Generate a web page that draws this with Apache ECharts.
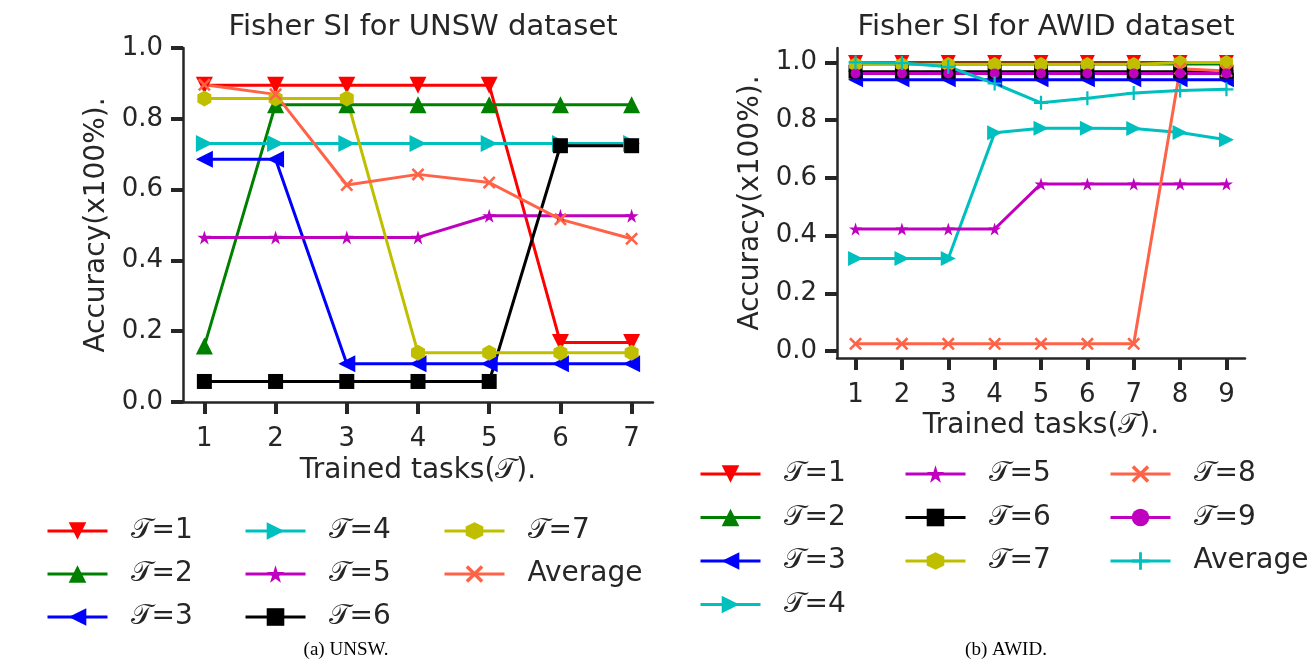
<!DOCTYPE html>
<html>
<head>
<meta charset="utf-8">
<script src="https://cdn.jsdelivr.net/npm/echarts@6/dist/echarts.min.js"></script>
<style>
html,body{margin:0;padding:0;background:#fff;}
.c{position:absolute;left:0;top:0;width:1315px;height:663px;}
#c2{pointer-events:none;}
</style>
</head>
<body>
<div id="c1" class="c"></div>
<div id="c2" class="c"></div>
<script>
// ---------- data: UNSW ----------
const unswTasks = [1, 2, 3, 4, 5, 6, 7];
const unswT1 = [0.895, 0.895, 0.895, 0.895, 0.895, 0.168, 0.168];
const unswT2 = [0.158, 0.840, 0.840, 0.840, 0.840, 0.840, 0.840];
const unswT3 = [0.686, 0.686, 0.108, 0.108, 0.108, 0.108, 0.108];
const unswT4 = [0.730, 0.730, 0.730, 0.730, 0.730, 0.730, 0.730];
const unswT5 = [0.465, 0.465, 0.465, 0.465, 0.526, 0.526, 0.526];
const unswT6 = [0.058, 0.058, 0.058, 0.058, 0.058, 0.724, 0.724];
const unswT7 = [0.857, 0.857, 0.857, 0.139, 0.139, 0.139, 0.139];
const unswAvg = [0.896, 0.869, 0.613, 0.643, 0.620, 0.516, 0.461];

// ---------- data: AWID ----------
const awidTasks = [1, 2, 3, 4, 5, 6, 7, 8, 9];
const awidT1 = [1.000, 1.000, 1.000, 1.000, 1.000, 1.000, 1.000, 1.000, 1.000];
const awidT2 = [0.995, 0.995, 0.995, 0.995, 0.995, 0.995, 0.995, 0.995, 0.995];
const awidT3 = [0.940, 0.940, 0.940, 0.940, 0.940, 0.940, 0.940, 0.940, 0.940];
const awidT4 = [0.321, 0.321, 0.321, 0.756, 0.772, 0.772, 0.771, 0.757, 0.732];
const awidT5 = [0.423, 0.423, 0.423, 0.423, 0.579, 0.579, 0.579, 0.579, 0.579];
const awidT6 = [0.968, 0.968, 0.968, 0.968, 0.968, 0.968, 0.968, 0.968, 0.968];
const awidT7 = [0.993, 0.993, 0.993, 0.993, 0.993, 0.993, 0.993, 1.000, 1.000];
const awidT8 = [0.025, 0.025, 0.025, 0.025, 0.025, 0.025, 0.025, 0.978, 0.970];
const awidT9 = [0.962, 0.962, 0.962, 0.962, 0.962, 0.962, 0.962, 0.962, 0.962];
const awidAvg = [1.000, 0.998, 0.985, 0.927, 0.860, 0.876, 0.894, 0.903, 0.907];

const yTicks = [0, 0.2, 0.4, 0.6, 0.8, 1.0];
const seriesNames = ['𝒯=1', '𝒯=2', '𝒯=3', '𝒯=4', '𝒯=5', '𝒯=6', '𝒯=7', '𝒯=8', '𝒯=9'];
const avgName = 'Average';

// ---------- styles ----------
const FONT = 'DejaVu Sans';
const INK = '#262626';
const STAR = 'path://M50 0L61.23 34.55L97.55 34.55L68.17 55.9L79.39 90.45L50 69.1L20.61 90.45L31.83 55.9L2.45 34.55L38.77 34.55Z';
const HEX = 'path://M50 0L93.3 25L93.3 75L50 100L6.7 75L6.7 25Z';
const XMARK = 'path://M14 0L100 86L86 100L0 14ZM86 0L100 14L14 100L0 86Z';
const PLUS = 'path://M42 0H58V42H100V58H58V100H42V58H0V42H42Z';

function mk(name, xs, ys, color, symbol, size, rotate) {
  return {
    type: 'line', name: name,
    data: xs.map((x, i) => [x, ys[i]]),
    symbol: symbol, symbolSize: size, symbolRotate: rotate || 0,
    showAllSymbol: true,
    lineStyle: { color: color, width: 3 },
    itemStyle: { color: color },
    emphasis: { disabled: true },
    animation: false
  };
}

function axes(xs, xmin, xmax, ymin, ymax) {
  return {
    xAxis: {
      type: 'value', min: xmin, max: xmax,
      name: 'Trained tasks(𝒯).', nameLocation: 'middle', nameGap: 54,
      nameTextStyle: { fontFamily: FONT, fontSize: 28, color: INK },
      axisLine: { show: true, onZero: false, lineStyle: { color: INK, width: 2.5 } },
      axisTick: { show: true, customValues: xs, length: 12, lineStyle: { color: INK, width: 4 } },
      axisLabel: { customValues: xs, margin: 24, fontFamily: FONT, fontSize: 26, color: INK },
      splitLine: { show: false }
    },
    yAxis: {
      type: 'value', min: ymin, max: ymax,
      name: 'Accuracy(x100%).', nameLocation: 'middle', nameGap: 72,
      nameTextStyle: { fontFamily: FONT, fontSize: 28, color: INK },
      axisLine: { show: true, onZero: false, lineStyle: { color: INK, width: 2.5 } },
      axisTick: { show: true, customValues: yTicks, length: 12, lineStyle: { color: INK, width: 4 } },
      axisLabel: { customValues: yTicks, margin: 20, fontFamily: FONT, fontSize: 26, color: INK,
                   formatter: v => v.toFixed(1) },
      splitLine: { show: false }
    }
  };
}

function legendCol(names, left, top, gap) {
  return {
    data: names, left: left, top: top, orient: 'vertical',
    itemWidth: 60, itemHeight: 22, itemGap: gap, selectedMode: false,
    lineStyle: { width: 3 },
    textStyle: { fontFamily: FONT, fontSize: 28, color: INK, lineHeight: 30, padding: [0, 0, 0, 18] }
  };
}

function titleOf(text, cx) {
  return { text: text, left: cx, top: 8, textAlign: 'center',
           textStyle: { fontFamily: FONT, fontSize: 29, fontWeight: 'normal', color: INK } };
}

function caption(text, cx) {
  return { type: 'text', x: cx, y: 650,
           style: { text: text, font: '19px "Liberation Serif"', fill: '#000', textAlign: 'center', textVerticalAlign: 'middle' } };
}

// ---------- left chart ----------
const a1 = axes(unswTasks, 0.7, 7.3, 0, 1.0);
const left = echarts.init(document.getElementById('c1'));
left.setOption({
  animation: false,
  title: titleOf('Fisher SI for UNSW dataset', 418),
  grid: { left: 183, top: 48, width: 470, height: 354 },
  xAxis: a1.xAxis, yAxis: a1.yAxis,
  legend: [
    legendCol([seriesNames[0], seriesNames[1], seriesNames[2]], 41, 511, 13),
    legendCol([seriesNames[3], seriesNames[4], seriesNames[5]], 239, 511, 13),
    legendCol([seriesNames[6], avgName], 438, 511, 13)
  ],
  graphic: [caption('(a) UNSW.', 346)],
  series: [
    mk(seriesNames[0], unswTasks, unswT1, '#ff0000', 'triangle', 17, 180),
    mk(seriesNames[1], unswTasks, unswT2, '#008000', 'triangle', 17, 0),
    mk(seriesNames[2], unswTasks, unswT3, '#0000ff', 'triangle', 17, 90),
    mk(seriesNames[3], unswTasks, unswT4, '#00bfbf', 'triangle', 17, -90),
    mk(seriesNames[4], unswTasks, unswT5, '#bf00bf', STAR, 14),
    mk(seriesNames[5], unswTasks, unswT6, '#000000', 'rect', 15),
    mk(seriesNames[6], unswTasks, unswT7, '#bfbf00', HEX, [14, 16]),
    mk(avgName, unswTasks, unswAvg, '#ff6347', XMARK, 13)
  ]
});

// ---------- right chart ----------
const a2 = axes(awidTasks, 0.6, 9.4, -0.024, 1.05);
const right = echarts.init(document.getElementById('c2'));
right.setOption({
  animation: false,
  title: titleOf('Fisher SI for AWID dataset', 1041),
  grid: { left: 837, top: 48, width: 408, height: 310 },
  xAxis: a2.xAxis, yAxis: a2.yAxis,
  legend: [
    legendCol([seriesNames[0], seriesNames[1], seriesNames[2], seriesNames[3]], 694, 454, 13.5),
    legendCol([seriesNames[4], seriesNames[5], seriesNames[6]], 899, 454, 13.5),
    legendCol([seriesNames[7], seriesNames[8], avgName], 1104, 454, 13.5)
  ],
  graphic: [caption('(b) AWID.', 1006)],
  series: [
    mk(seriesNames[0], awidTasks, awidT1, '#ff0000', 'triangle', 15, 180),
    mk(seriesNames[1], awidTasks, awidT2, '#008000', 'triangle', 15, 0),
    mk(seriesNames[2], awidTasks, awidT3, '#0000ff', 'triangle', 15, 90),
    mk(seriesNames[3], awidTasks, awidT4, '#00bfbf', 'triangle', 15, -90),
    mk(seriesNames[4], awidTasks, awidT5, '#bf00bf', STAR, 13),
    mk(seriesNames[5], awidTasks, awidT6, '#000000', 'rect', 14),
    mk(seriesNames[6], awidTasks, awidT7, '#bfbf00', HEX, [13, 15]),
    mk(seriesNames[7], awidTasks, awidT8, '#ff6347', XMARK, 13),
    mk(seriesNames[8], awidTasks, awidT9, '#bf00bf', 'circle', 10),
    mk(avgName, awidTasks, awidAvg, '#00bfbf', PLUS, 14)
  ]
});
</script>
</body>
</html>
